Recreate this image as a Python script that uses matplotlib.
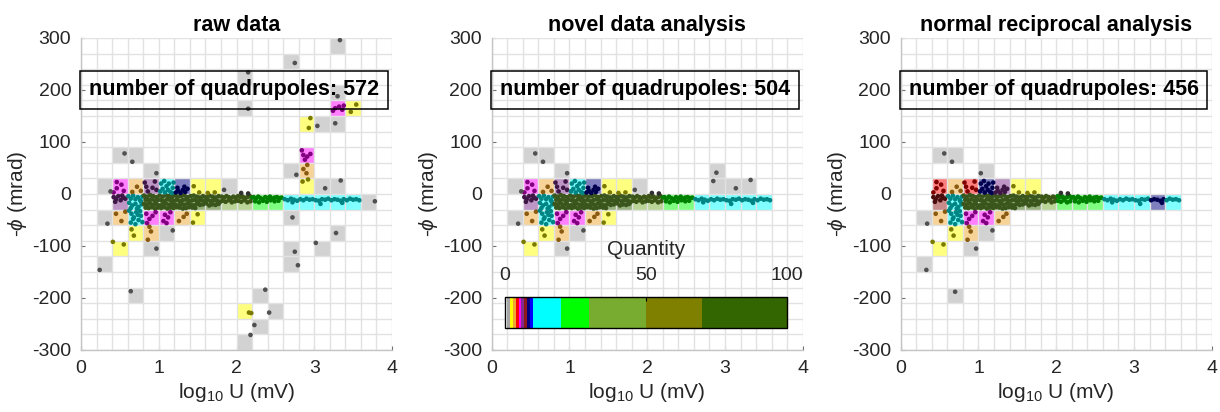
import numpy as np
import matplotlib
matplotlib.use('Agg')
import matplotlib.pyplot as plt
from matplotlib.colors import ListedColormap, BoundaryNorm
from matplotlib.ticker import MultipleLocator, FixedLocator
import matplotlib.cm as cm

plt.rcParams['font.family'] = ['Liberation Sans', 'DejaVu Sans']
plt.rcParams['mathtext.fontset'] = 'custom'
plt.rcParams['mathtext.rm'] = 'Liberation Sans'
plt.rcParams['mathtext.it'] = 'Liberation Sans:italic'
plt.rcParams['axes.unicode_minus'] = False

# ---------------- data ----------------
TITLES = ['raw data', 'novel data analysis', 'normal reciprocal analysis']
QUADRUPOLES = [572, 504, 456]

# colour classes (Quantity)
BOUNDS = [0, 1, 2, 3, 4, 5, 6, 7, 8, 9, 10, 20, 30, 50, 70, 100]
CLASS_COLORS = ['#ffffff', '#a6a6a6', '#ffff00', '#f0a830', '#ff0000', '#ff00ff',
                '#7e2f8e', '#901818', '#000080', '#0000ff', '#00ffff', '#00ff00',
                '#77ac30', '#808000', '#336600']
POINT_COLORS = ['#303030', '#505050', '#7a7a00', '#8a5a10', '#800000', '#800080',
                '#3f1747', '#4a0c0c', '#000050', '#000090', '#008585', '#008000',
                '#3c5618', '#404000', '#3a561c']

# cells: centre x, centre y, count
RAW_CX = [3.3, 2.7, 2.1, 3.3, 2.1, 3.3, 3.5, 2.9, 3.1, 3.3, 0.5, 0.7, 2.9, 0.9, 2.7, 2.9,
          0.3, 0.5, 0.7, 0.9, 1.1, 1.3, 1.5, 1.7, 1.9, 2.9, 3.1, 3.3,
          0.5, 0.7, 0.9, 1.1, 1.3, 1.5, 1.7, 1.9, 2.1, 2.3, 2.5, 2.7, 2.9, 3.1, 3.3, 3.5, 3.7,
          0.3, 0.5, 0.7, 0.9, 1.1, 1.3, 1.5, 2.7,
          0.7, 0.9, 1.1, 3.3, 0.5, 0.9, 2.7, 3.1, 0.3, 2.7, 0.7, 2.3, 2.1, 2.5, 2.3, 2.1]
RAW_CY = [285, 255, 225, 195, 165, 165, 165, 135, 135, 135, 75, 75, 75, 45, 45, 45,
          15, 15, 15, 15, 15, 15, 15, 15, 15, 15, 15, 15,
          -15, -15, -15, -15, -15, -15, -15, -15, -15, -15, -15, -15, -15, -15, -15, -15, -15,
          -45, -45, -45, -45, -45, -45, -45, -45,
          -75, -75, -75, -75, -105, -105, -105, -105, -135, -135, -195, -195, -225, -225, -255, -285]
RAW_CN = [1, 1, 1, 1, 1, 5, 2, 2, 1, 1, 1, 1, 5, 1, 1, 3,
          1, 5, 3, 6, 15, 8, 2, 2, 1, 2, 1, 1,
          6, 15, 80, 80, 80, 80, 80, 40, 40, 25, 25, 15, 15, 15, 15, 15, 1,
          1, 3, 15, 5, 5, 3, 2, 1,
          2, 3, 1, 1, 2, 1, 1, 1, 1, 1, 1, 1, 2, 1, 1, 1]

MID_CX = [0.5, 0.7, 0.9, 2.9,
          0.3, 0.5, 0.7, 0.9, 1.1, 1.3, 1.5, 1.7, 1.9, 2.9, 3.1, 3.3,
          0.5, 0.7, 0.9, 1.1, 1.3, 1.5, 1.7, 1.9, 2.1, 2.3, 2.5, 2.7, 2.9, 3.1, 3.3, 3.5,
          0.3, 0.5, 0.7, 0.9, 1.1, 1.3, 1.5,
          0.7, 0.9, 1.1, 0.5, 0.9]
MID_CY = [75, 75, 45, 45,
          15, 15, 15, 15, 15, 15, 15, 15, 15, 15, 15, 15,
          -15, -15, -15, -15, -15, -15, -15, -15, -15, -15, -15, -15, -15, -15, -15, -15,
          -45, -45, -45, -45, -45, -45, -45,
          -75, -75, -75, -105, -105]
MID_CN = [1, 1, 1, 1,
          1, 5, 3, 6, 15, 8, 2, 2, 1, 1, 1, 1,
          6, 15, 80, 80, 80, 80, 80, 40, 40, 25, 25, 15, 15, 15, 15, 15,
          1, 3, 15, 5, 5, 3, 2,
          2, 3, 1, 2, 1]

NRM_CX = [0.5, 0.7, 1.1,
          0.5, 0.7, 0.9, 1.1, 1.3, 1.5, 1.7,
          0.5, 0.7, 0.9, 1.1, 1.3, 1.5, 1.7, 1.9, 2.1, 2.3, 2.5, 2.7, 2.9, 3.1, 3.3, 3.5,
          0.3, 0.5, 0.7, 0.9, 1.1, 1.3,
          0.7, 0.9, 1.1, 0.5, 0.9, 0.3, 0.7]
NRM_CY = [75, 75, 45,
          15, 15, 15, 15, 15, 15, 15,
          -15, -15, -15, -15, -15, -15, -15, -15, -15, -15, -15, -15, -15, -15, -15, -15,
          -45, -45, -45, -45, -45, -45,
          -75, -75, -75, -105, -105, -135, -195]
NRM_CN = [1, 1, 1,
          4, 3, 4, 8, 6, 2, 2,
          7, 15, 80, 80, 80, 80, 80, 40, 25, 25, 25, 15, 15, 15, 8, 15,
          1, 3, 15, 5, 5, 3,
          2, 3, 1, 2, 1, 1, 1]

# measurement points shared by all panels (main band and left cluster)
BAND_X = [0.42, 0.45, 0.48, 0.51, 0.54, 0.57, 0.44, 0.53,
          0.61, 0.64, 0.67, 0.70, 0.73, 0.76, 0.79, 0.62, 0.66, 0.70, 0.74, 0.78, 0.64, 0.72, 0.77,
          0.81, 0.85, 0.89, 0.93, 0.97, 1.01, 1.05, 1.09, 1.13, 1.17, 1.21, 1.25, 1.29, 1.33, 1.37,
          1.41, 1.45, 1.49, 1.53, 1.57, 1.61, 1.65, 1.69, 1.73, 1.77,
          0.83, 0.87, 0.91, 0.95, 0.99, 1.03, 1.07, 1.11, 1.15, 1.19, 1.23, 1.27, 1.31, 1.35, 1.39,
          1.43, 1.47, 1.51, 1.55, 1.59, 1.63, 1.67, 1.71, 1.75, 1.79,
          0.81, 0.85, 0.89, 0.93, 0.97, 1.01, 1.05, 1.09, 1.13, 1.17, 1.21, 1.25, 1.29, 1.33, 1.37,
          1.41, 1.45, 1.49, 1.53, 1.57, 1.61, 1.65, 1.69, 1.73, 1.77,
          0.83, 0.87, 0.91, 0.95, 0.99, 1.03, 1.07, 1.11, 1.15, 1.19, 1.23, 1.27, 1.31, 1.35, 1.39,
          1.43, 1.47,
          1.81, 1.84, 1.87, 1.90, 1.93, 1.96, 1.99, 2.02, 2.05, 2.08, 2.11, 2.14, 2.17, 2.20,
          1.82, 1.86, 1.90, 1.94, 1.98, 2.02, 2.06, 2.10, 2.14, 2.18, 2.06, 2.15,
          2.22, 2.25, 2.28, 2.31, 2.34, 2.37, 2.40, 2.43, 2.46, 2.49, 2.52, 2.55, 2.58,
          2.24, 2.29, 2.34, 2.39, 2.44, 2.49, 2.54,
          2.62, 2.66, 2.70, 2.74, 2.78, 2.82, 2.86, 2.90, 2.94, 2.98, 3.02, 3.06, 3.10, 3.14, 3.18,
          3.22, 3.26, 3.30, 3.34, 3.38, 3.42, 3.46, 3.50, 3.54, 3.58, 3.08, 2.72, 3.36]
BAND_Y = [-6, -10, -4, -12, -7, -9, -15, -3,
          -4, -9, -3, -10, -6, -12, -5, -17, -22, -19, -25, -20, -27, -28, -14,
          -3, -5, -2, -4, -6, -3, -5, -2, -4, -6, -3, -5, -4, -2, -6,
          -4, -3, -5, -7, -4, -6, -3, -5, -7, -4,
          -11, -12, -10, -13, -11, -12, -14, -10, -12, -13, -11, -14, -12, -10, -13,
          -12, -11, -14, -12, -13, -11, -14, -12, -13, -15,
          -19, -20, -18, -21, -19, -22, -20, -18, -21, -19, -20, -22, -19, -21, -18,
          -20, -22, -19, -21, -20, -18, -22, -20, -21, -19,
          -26, -27, -25, -28, -26, -27, -25, -28, -26, -27, -25, -26, -28, -27, -25,
          -26, -27,
          -5, -7, -4, -6, -8, -5, -7, -4, -6, -5, -8, -6, -4, -7,
          -13, -15, -12, -16, -14, -13, -15, -12, -16, -14, 2, 1,
          -6, -9, -5, -8, -10, -6, -8, -5, -9, -7, -6, -8, -7,
          -14, -16, -13, -15, -12, -14, -13,
          -10, -12, -9, -11, -13, -10, -12, -9, -11, -10, -12, -13, -10, -11, -9,
          -12, -10, -11, -13, -10, -12, -9, -11, -10, -12, -19, -16, -17]

CLUSTER_X = [0.46, 0.46, 0.52, 0.55, 0.42, 0.66, 0.72, 0.77,
             0.82, 0.86, 0.92, 0.95, 0.97, 0.84,
             1.02, 1.05, 1.08, 1.10, 1.12, 1.15, 1.18, 1.03, 1.07, 1.13, 1.17, 1.19,
             1.22, 1.25, 1.28, 1.31, 1.34, 1.37, 1.24, 1.33, 1.45, 1.52, 1.63, 1.72,
             0.45, 0.52, 0.57,
             0.62, 0.65, 0.68, 0.71, 0.74, 0.77, 0.64, 0.70, 0.76, 0.79, 0.67, 0.73,
             0.84, 0.88, 0.92, 0.85, 0.96, 1.08, 1.12, 1.15, 1.06, 1.10,
             1.26, 1.32, 1.36,
             0.65, 0.68, 0.88, 0.90, 0.86, 1.18, 0.41, 0.55, 0.97, 0.56, 0.66]
CLUSTER_Y = [23, 11, 18, 6, 3, 4, 14, 6,
             22, 5, 12, 24, 8, 14,
             5, 10, 3, 15, 8, 4, 12, 20, 25, 20, 2, 22,
             3, 6, 2, 8, 4, 10, 12, 14, 15, 3, 2, 3,
             -38, -52, -34,
             -32, -38, -45, -35, -50, -42, -55, -58, -33, -54, -48, -40,
             -38, -48, -42, -56, -35, -40, -45, -35, -52, -56,
             -52, -44, -38,
             -68, -80, -63, -72, -88, -70, -92, -97, -105, 78, 62]

RAW_PX = [0.38, 1.84, 0.34, 1.50, 1.44, 0.97, 0.24, 0.64,
          3.33, 2.75, 2.15, 3.30, 2.15, 3.24, 3.27, 3.32, 3.36, 3.38, 3.54, 3.47,
          2.95, 2.93, 3.04, 3.27, 2.86, 2.91, 2.95, 2.88, 2.84, 2.77, 2.91, 2.90, 2.86,
          2.85, 2.92, 3.14, 3.34, 3.78, 2.72, 3.28, 3.02, 2.75, 2.79, 2.37, 2.16, 2.19,
          2.42, 2.23, 2.18]
RAW_PY = [5, 8, -57, -39, -55, 40, -146, -187,
          296, 252, 234, 188, 164, 160, 165, 168, 162, 170, 172, 158,
          146, 127, 131, 136, 75, 72, 77, 66, 84, 37, 56, 40, 48,
          24, 28, 11, 26, -14, -45, -75, -94, -111, -137, -184, -228, -229,
          -228, -252, -271]

MID_PX = [0.38, 1.84, 0.34, 1.50, 1.44, 0.97, 2.89, 2.85, 3.14, 3.33]
MID_PY = [5, 8, -57, -39, -55, 40, 41, 25, 11, 27]

NRM_PX = [0.34, 1.03, 0.33, 0.70]
NRM_PY = [-57, 40, -146, -188]

# ---------------- styling ----------------
XEDGES = np.linspace(0, 4, 21)
YEDGES = np.linspace(-300, 300, 21)
cmap = ListedColormap(CLASS_COLORS)
pmap = ListedColormap(POINT_COLORS)
norm = BoundaryNorm(BOUNDS, cmap.N)

TXT = '#262626'
fig = plt.figure(figsize=(12.2, 4.12), dpi=100)
LEFTS = [81 / 1220, 491.7 / 1220, 900.7 / 1220]
W, H = 311 / 1220, 312 / 412
B = 62 / 412

panels = [(RAW_CX, RAW_CY, RAW_CN, RAW_PX, RAW_PY),
          (MID_CX, MID_CY, MID_CN, MID_PX, MID_PY),
          (NRM_CX, NRM_CY, NRM_CN, NRM_PX, NRM_PY)]

axes = []
for k, (cx, cy, cn, px_, py_) in enumerate(panels):
    ax = fig.add_axes([LEFTS[k], B, W, H])
    axes.append(ax)
    counts, _, _ = np.histogram2d(cx, cy, bins=[XEDGES, YEDGES], weights=cn)
    counts = counts.T
    ax.pcolormesh(XEDGES, YEDGES, np.ma.masked_equal(counts, 0), cmap=cmap, norm=norm,
                  alpha=0.5, edgecolors='none', zorder=1)

    px = np.array(BAND_X + CLUSTER_X + px_)
    py = np.array(BAND_Y + CLUSTER_Y + py_)
    ix = np.clip(np.floor(px / 0.2).astype(int), 0, 19)
    iy = np.clip(np.floor((py + 300) / 30).astype(int), 0, 19)
    pc = pmap(norm(counts[iy, ix]))
    ax.scatter(px, py, s=11, c=pc, edgecolors='none', zorder=3)

    ax.set_xlim(0, 4)
    ax.set_ylim(-300, 300)
    ax.xaxis.set_major_locator(FixedLocator([0, 1, 2, 3, 4]))
    ax.yaxis.set_major_locator(FixedLocator([-300, -200, -100, 0, 100, 200, 300]))
    ax.xaxis.set_minor_locator(MultipleLocator(0.2))
    ax.yaxis.set_minor_locator(MultipleLocator(30))
    ax.xaxis.remove_overlapping_locs = False
    ax.yaxis.remove_overlapping_locs = False
    ax.grid(False, which='major')
    ax.grid(True, which='minor', color='#e2e2e2', lw=1.0, zorder=2)
    ax.set_axisbelow('line')
    ax.tick_params(which='minor', length=0)
    ax.tick_params(which='major', direction='in', length=3, width=0.8, color='#707070',
                   labelsize=14, labelcolor=TXT, pad=7)
    for s in ['top', 'right']:
        ax.spines[s].set_visible(False)
    for s in ['left', 'bottom']:
        ax.spines[s].set_color('#c4c4c4')
        ax.spines[s].set_linewidth(1.0)
    ax.set_title(TITLES[k], fontsize=15.5, fontweight='bold', color='black', pad=5)
    ax.set_xlabel(r'log$_{10}$ U (mV)', fontsize=15, color=TXT, labelpad=3)
    ax.set_ylabel(r'-$\phi$ (mrad)', fontsize=15, color=TXT, labelpad=2)
    ax.text(1.97, 200, f'number of quadrupoles: {QUADRUPOLES[k]}', ha='center', va='center',
            fontsize=15.5, fontweight='bold', color='black', zorder=4,
            bbox=dict(boxstyle='square,pad=0.4', fc='none', ec='black', lw=1.1))

# colour bar inside the middle panel
ax2 = axes[1]
cax = ax2.inset_axes([0.165, -258, 3.635, 60.5], transform=ax2.transData)
sm = cm.ScalarMappable(norm=norm, cmap=cmap)
cb = fig.colorbar(sm, cax=cax, orientation='horizontal', spacing='proportional',
                  ticks=[0, 50, 100])
cb.outline.set_edgecolor('black')
cb.outline.set_linewidth(1.0)
cax.xaxis.set_ticks_position('top')
cax.xaxis.set_label_position('top')
cax.tick_params(direction='in', length=3, width=0.8, labelsize=14, labelcolor=TXT, pad=9)
cax.minorticks_off()
cb.set_label('Quantity', fontsize=15, color=TXT, labelpad=9)

fig.savefig('out.png', dpi=100)
